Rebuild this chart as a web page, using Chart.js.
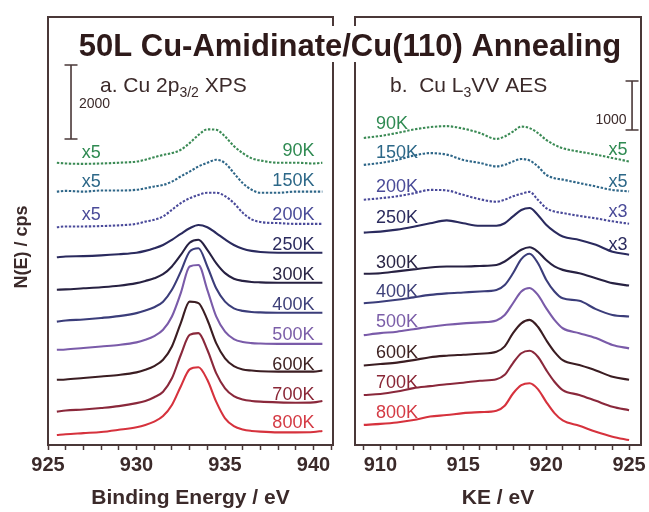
<!DOCTYPE html>
<html>
<head>
<meta charset="utf-8">
<script src="https://cdn.jsdelivr.net/npm/chart.js@4.4.1/dist/chart.umd.min.js"></script>
<style>
  html, body { margin: 0; padding: 0; background: #fff; }
  #wrap { position: relative; width: 649px; height: 512px; }
  canvas { position: absolute; left: 0; top: 0; }
</style>
</head>
<body>
<div id="wrap">
  <canvas id="xps" width="649" height="512"></canvas>
  <canvas id="aes" width="649" height="512"></canvas>
</div>
<script>
// --- data (displayed N(E) in cps, offsets included) ---
const temps = ["90K", "150K", "200K", "250K", "300K", "400K", "500K", "600K", "700K", "800K"];

const xpsEnergy = [925.5, 926, 927, 928, 929, 930, 930.5, 931, 931.5, 932, 932.5, 933, 933.5, 934, 934.5, 935, 935.5, 936, 936.5, 937, 938, 939, 940, 940.5];
const xps90  = [7620, 7600, 7590, 7600, 7620, 7650, 7700, 7770, 7830, 7880, 7970, 8150, 8370, 8520, 8510, 8330, 8070, 7880, 7740, 7680, 7620, 7620, 7600, 7620];
const xps150 = [6840, 6860, 6840, 6870, 6870, 6890, 6930, 6980, 7020, 7110, 7250, 7380, 7520, 7620, 7700, 7610, 7340, 7070, 6890, 6810, 6810, 6840, 6840, 6840];
const xps200 = [5880, 5900, 5900, 5910, 5930, 5970, 6030, 6080, 6170, 6350, 6530, 6660, 6750, 6810, 6810, 6720, 6530, 6270, 6090, 6020, 5990, 5970, 5970, 5970];
const xps250 = [5070, 5090, 5100, 5120, 5150, 5190, 5240, 5310, 5400, 5540, 5700, 5850, 5940, 5880, 5720, 5550, 5400, 5300, 5240, 5210, 5190, 5190, 5190, 5190];
const xps300 = [4190, 4200, 4230, 4260, 4300, 4370, 4430, 4500, 4610, 4820, 5130, 5460, 5540, 5270, 4910, 4640, 4490, 4430, 4400, 4390, 4380, 4380, 4380, 4380];
const xps400 = [3330, 3360, 3390, 3430, 3480, 3560, 3630, 3720, 3870, 4190, 4680, 5220, 5310, 4820, 4230, 3870, 3690, 3620, 3590, 3580, 3570, 3570, 3570, 3570];
const xps500 = [2570, 2580, 2620, 2660, 2700, 2770, 2840, 2940, 3110, 3470, 4100, 4820, 4860, 4190, 3470, 3060, 2860, 2780, 2750, 2740, 2730, 2730, 2730, 2730];
const xps600 = [1760, 1770, 1810, 1850, 1890, 1960, 2030, 2130, 2300, 2660, 3290, 3870, 3830, 3380, 2750, 2340, 2130, 2040, 2010, 1990, 1980, 1980, 1980, 2010];
const xps700 = [900, 930, 960, 1000, 1050, 1130, 1190, 1290, 1440, 1800, 2430, 2970, 3020, 2570, 1940, 1530, 1320, 1230, 1190, 1170, 1150, 1140, 1150, 1190];
const xps800 = [270, 290, 320, 350, 410, 480, 540, 630, 780, 1080, 1580, 2040, 2100, 1760, 1170, 720, 510, 420, 380, 360, 340, 340, 350, 380];

const aesEnergy = [909, 910, 911, 912, 913, 914, 915, 916, 917, 917.5, 918, 918.5, 919, 919.5, 920, 920.5, 921, 922, 923, 924, 925];
const aes90  = [6260, 6300, 6360, 6430, 6480, 6500, 6450, 6360, 6240, 6290, 6390, 6490, 6460, 6360, 6220, 6120, 6050, 5980, 5920, 5850, 5780];
const aes150 = [5710, 5750, 5810, 5900, 5950, 5920, 5810, 5750, 5680, 5710, 5780, 5830, 5800, 5680, 5510, 5440, 5410, 5340, 5270, 5200, 5170];
const aes200 = [5000, 5030, 5070, 5130, 5200, 5190, 5100, 5010, 4960, 5000, 5070, 5120, 5160, 5000, 4830, 4760, 4730, 4670, 4620, 4560, 4510];
const aes250 = [4330, 4350, 4390, 4450, 4520, 4580, 4520, 4470, 4470, 4520, 4660, 4790, 4830, 4690, 4490, 4350, 4250, 4180, 4080, 3940, 3880];
const aes300 = [3490, 3500, 3540, 3580, 3620, 3640, 3640, 3650, 3670, 3740, 3860, 3980, 4030, 3940, 3770, 3640, 3570, 3500, 3400, 3300, 3250];
const aes400 = [2890, 2920, 2960, 3010, 3060, 3090, 3110, 3130, 3160, 3260, 3500, 3790, 3900, 3710, 3370, 3130, 2990, 2940, 2770, 2650, 2620];
const aes500 = [2240, 2280, 2310, 2360, 2410, 2450, 2480, 2500, 2540, 2650, 2890, 3130, 3200, 3060, 2790, 2550, 2380, 2280, 2180, 2040, 1970];
const aes600 = [1620, 1650, 1680, 1730, 1790, 1820, 1840, 1860, 1900, 2010, 2280, 2480, 2550, 2410, 2140, 1900, 1730, 1630, 1520, 1390, 1330];
const aes700 = [1020, 1040, 1090, 1160, 1200, 1240, 1270, 1310, 1340, 1430, 1670, 1870, 1920, 1800, 1530, 1290, 1120, 1020, 900, 780, 710];
const aes800 = [410, 430, 460, 510, 580, 610, 650, 670, 700, 800, 1050, 1220, 1260, 1140, 880, 650, 500, 390, 270, 170, 100];

const xpsFactors = ["x5", "x5", "x5"];
const aesFactors = ["x5", "x5", "x3", "x3"];
const xpsBar = 2000;
const aesBar = 1000;

// --- styling ---
const FONT = "'Liberation Sans', Arial, Helvetica, sans-serif";
const INK = "#3b2a2a";
const FRAME = "#4a3838";
const curveColors = ["#3a8a54", "#2e6688", "#4a4a9a", "#2a2a5e", "#272142", "#3b3d7a", "#7a5ba9", "#3b1d22", "#8a283b", "#d6323d"];
const labelColors = ["#2f8a52", "#2d6888", "#4a4b98", "#2b2b5e", "#2a2545", "#3f417a", "#7b5ea8", "#3e2222", "#8a2636", "#d43a44"];

function makeDatasets(xs, series) {
  return series.map((ys, i) => ({
    label: temps[i],
    data: xs.map((x, j) => ({ x: x, y: ys[j] })),
    borderColor: curveColors[i],
    borderWidth: 2.1,
    borderDash: i < 3 ? [2.4, 1.6] : [],
    pointRadius: 0,
    cubicInterpolationMode: "monotone",
    fill: false
  }));
}

function xAxis(min, max, title) {
  return {
    type: "linear", min: min, max: max,
    ticks: {
      stepSize: 1, autoSkip: false, includeBounds: false, maxRotation: 0, padding: 3,
      color: INK, font: { family: FONT, size: 20, weight: "bold" },
      callback: v => (Math.round(v) % 5 === 0 ? String(Math.round(v)) : "")
    },
    grid: { drawOnChartArea: false, drawTicks: true, tickLength: 5, tickColor: FRAME, tickWidth: 1.5 },
    border: { display: true, color: FRAME, width: 2 },
    title: { display: true, text: title, color: INK, font: { family: FONT, size: 21, weight: "bold" }, padding: { top: 0, bottom: 1 } },
    afterFit: s => { s.height = 67; s.paddingLeft = 0; s.paddingRight = 0; }
  };
}

function scaleBar(ctx, x, y, e, v0, len, text, align, lx, ly) {
  const px = x.getPixelForValue(e);
  const p0 = y.getPixelForValue(v0), p1 = y.getPixelForValue(v0 + len);
  ctx.strokeStyle = FRAME; ctx.lineWidth = 1.6;
  ctx.beginPath();
  ctx.moveTo(px, p0); ctx.lineTo(px, p1);
  ctx.moveTo(px - 6.5, p0); ctx.lineTo(px + 6.5, p0);
  ctx.moveTo(px - 6.5, p1); ctx.lineTo(px + 6.5, p1);
  ctx.stroke();
  ctx.fillStyle = INK; ctx.font = "14px " + FONT;
  ctx.textAlign = align; ctx.textBaseline = "middle";
  ctx.fillText(text, x.getPixelForValue(lx), y.getPixelForValue(ly));
}

function panelLabel(ctx, x0, base, parts) {
  let cx = x0;
  ctx.fillStyle = INK; ctx.textAlign = "left"; ctx.textBaseline = "alphabetic";
  parts.forEach(p => {
    ctx.font = (p.sub ? "14px " : "21px ") + FONT;
    ctx.fillText(p.t, cx, base + (p.sub ? 5 : 0));
    cx += ctx.measureText(p.t).width;
  });
}

function decor(opt) {
  return {
    id: "decor",
    afterDraw(chart) {
      const { ctx, chartArea: a, scales: { x, y } } = chart;
      ctx.save();
      ctx.strokeStyle = FRAME; ctx.lineWidth = 2;
      ctx.strokeRect(a.left, a.top, a.right - a.left, a.bottom - a.top);

      ctx.font = "18px " + FONT; ctx.textBaseline = "middle";
      ctx.textAlign = opt.labelAlign;
      temps.forEach((t, i) => {
        ctx.fillStyle = labelColors[i];
        ctx.fillText(t, x.getPixelForValue(opt.labelE), y.getPixelForValue(opt.labelY[i]));
      });
      ctx.textAlign = opt.factorAlign;
      opt.factors.forEach((f, i) => {
        ctx.fillStyle = labelColors[i];
        ctx.fillText(f, x.getPixelForValue(opt.factorE), y.getPixelForValue(opt.factorY[i]));
      });
      opt.extra(ctx, chart, x, y);
      ctx.restore();
    }
  };
}

const xpsChart = new Chart(document.getElementById("xps"), {
  type: "line",
  data: { datasets: makeDatasets(xpsEnergy, [xps90, xps150, xps200, xps250, xps300, xps400, xps500, xps600, xps700, xps800]) },
  options: {
    responsive: false, animation: false, devicePixelRatio: 1,
    layout: { padding: { left: 48, right: 316, top: 17, bottom: 0 } },
    plugins: { legend: { display: false }, tooltip: { enabled: false } },
    scales: {
      x: xAxis(925, 941.1, "Binding Energy / eV"),
      y: { type: "linear", display: false, min: 0, max: 11554 }
    }
  },
  plugins: [decor({
    labelAlign: "right", labelE: 940.05,
    labelY: [7930, 7120, 6220, 5410, 4600, 3780, 2970, 2160, 1350, 600],
    factors: xpsFactors, factorAlign: "left", factorE: 926.9,
    factorY: [7890, 7110, 6220],
    extra(ctx, chart, x, y) {
      scaleBar(ctx, x, y, 926.3, 8260, xpsBar, String(xpsBar), "left", 926.75, 9200);
      panelLabel(ctx, 100, 92, [{ t: "a. Cu 2p" }, { t: "3/2", sub: true }, { t: " XPS" }]);
      ctx.save();
      ctx.translate(22, 247); ctx.rotate(-Math.PI / 2);
      ctx.fillStyle = INK; ctx.font = "bold 18px " + FONT;
      ctx.textAlign = "center"; ctx.textBaseline = "middle";
      ctx.fillText("N(E) / cps", 0, 0);
      ctx.restore();
    }
  })]
});

const aesChart = new Chart(document.getElementById("aes"), {
  type: "line",
  data: { datasets: makeDatasets(aesEnergy, [aes90, aes150, aes200, aes250, aes300, aes400, aes500, aes600, aes700, aes800]) },
  options: {
    responsive: false, animation: false, devicePixelRatio: 1,
    layout: { padding: { left: 355, right: 8, top: 17, bottom: 0 } },
    plugins: { legend: { display: false }, tooltip: { enabled: false } },
    scales: {
      x: xAxis(908.47, 925.72, "KE / eV"),
      y: { type: "linear", display: false, min: 0, max: 8725 }
    }
  },
  plugins: [decor({
    labelAlign: "left", labelE: 909.73,
    labelY: [6550, 5960, 5250, 4630, 3710, 3120, 2510, 1880, 1270, 650],
    factors: aesFactors, factorAlign: "right", factorE: 924.9,
    factorY: [6020, 5370, 4740, 4080],
    extra(ctx, chart, x, y) {
      scaleBar(ctx, x, y, 925.18, 6420, aesBar, String(aesBar), "right", 924.85, 6630);
      panelLabel(ctx, 390, 92, [{ t: "b.  Cu L" }, { t: "3", sub: true }, { t: "VV AES" }]);
      // main title over both frames
      const title = "50L Cu-Amidinate/Cu(110) Annealing";
      ctx.font = "bold 31px " + FONT;
      const w = ctx.measureText(title).width;
      ctx.fillStyle = "#fff";
      ctx.fillRect(350 - w / 2 - 4, 26, w + 8, 36);
      ctx.fillStyle = "#2e1a1a"; ctx.textAlign = "center"; ctx.textBaseline = "alphabetic";
      ctx.fillText(title, 350, 56);
    }
  })]
});
</script>
</body>
</html>
